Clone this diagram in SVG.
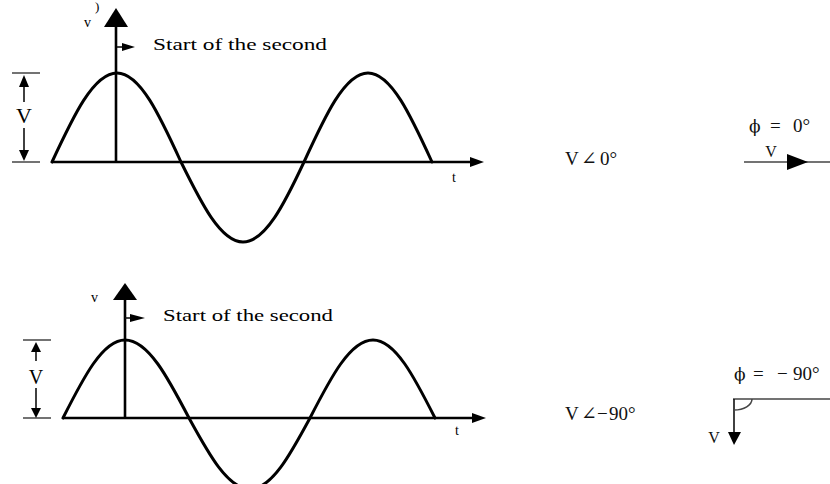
<svg xmlns="http://www.w3.org/2000/svg" width="830" height="484" viewBox="0 0 830 484">
<style>
.wave{fill:none;stroke:#000;stroke-width:3;stroke-linejoin:round;stroke-linecap:round}
.axis{fill:none;stroke:#000;stroke-width:2.6}
.thin{fill:none;stroke:#111;stroke-width:1.6}
.gray{fill:none;stroke:#444;stroke-width:1.5}
.head{fill:#000;stroke:none}
text{font-family:"Liberation Serif","DejaVu Serif",serif;fill:#000}
.lbl{font-size:16px}
.sm{font-size:14px}
.big{font-size:22px}
.ph{font-size:19px;fill:#111}
.phi{font-family:"DejaVu Serif",serif;font-size:17px}
</style>
<rect width="830" height="484" fill="#fff"/>
<text x="95" y="11" class="sm" style="font-size:13px">)</text>

<g id="top-plot">
  <g id="top-wave">
    <path class="wave" d="M52,162 C73.2,116.4 93.5,73 117,73 C140.2,73 160.1,116.4 181,162 C201.2,203 220.6,242 243,242 C265.4,242 284.8,203 304,162 C324.9,116.4 344.8,73 368,73 C391.2,73 411.1,116.4 432,162"/>
  </g>
  <g id="top-axes">
    <line class="axis" x1="52" y1="162" x2="472" y2="162"/>
    <polygon class="head" points="470,157 484,162 470,167"/>
    <line class="axis" x1="116" y1="162" x2="116" y2="24"/>
    <polygon class="head" points="104,27 116,8 128,27"/>
    <text x="84" y="27" class="sm">v</text>
    <text x="452" y="182" class="sm">t</text>
  </g>
  <g id="top-start">
    <line class="thin" x1="117" y1="47" x2="124" y2="47"/>
    <polygon class="head" points="122,43 135,47 122,51"/>
    <text x="153" y="50" class="lbl" textLength="174" lengthAdjust="spacingAndGlyphs">Start of the second</text>
  </g>
  <g id="top-amplitude">
    <line class="gray" x1="12" y1="73" x2="40" y2="73"/>
    <line class="gray" x1="12" y1="162" x2="40" y2="162"/>
    <line class="thin" x1="24" y1="85" x2="24" y2="102"/>
    <polygon class="head" points="19,87 24,75 29,87"/>
    <line class="thin" x1="24" y1="128" x2="24" y2="150"/>
    <polygon class="head" points="19,150 24,161 29,150"/>
    <text x="24" y="123" class="big" text-anchor="middle">V</text>
  </g>
</g>

<g id="top-phasor">
  <text class="ph" y="165"><tspan x="565">V</tspan><tspan x="581">∠</tspan><tspan x="600">0°</tspan></text>
  <text class="ph" y="132"><tspan x="749" class="phi">ϕ</tspan><tspan x="770">=</tspan><tspan x="793">0°</tspan></text>
  <line class="gray" x1="744" y1="162" x2="830" y2="162"/>
  <polygon class="head" points="787,154 808,162 787,170"/>
  <text x="771" y="157" class="ph" text-anchor="middle" style="font-size:16px">V</text>
</g>

<g id="bottom-plot">
  <g id="bottom-wave">
    <path class="wave" d="M63,418 C83.2,378 102.6,340 125,340 C148.2,340 168.1,378 189,418 C208.9,454.4 227.9,489 250,489 C271.7,489 290.4,454.4 310,418 C330.5,378 350.2,340 373,340 C395.4,340 414.8,378 435,418"/>
  </g>
  <g id="bottom-axes">
    <line class="axis" x1="63" y1="418" x2="474" y2="418"/>
    <polygon class="head" points="472,413 486,418 472,423"/>
    <line class="axis" x1="125" y1="418" x2="125" y2="297"/>
    <polygon class="head" points="113,300 125,283 137,300"/>
    <text x="91" y="302" class="sm">v</text>
    <text x="455" y="435" class="sm">t</text>
  </g>
  <g id="bottom-start">
    <line class="thin" x1="125" y1="318" x2="132" y2="318"/>
    <polygon class="head" points="130,314 145,318 130,322"/>
    <text x="163" y="321" class="lbl" textLength="170" lengthAdjust="spacingAndGlyphs">Start of the second</text>
  </g>
  <g id="bottom-amplitude">
    <line class="gray" x1="23" y1="340" x2="51" y2="340"/>
    <line class="gray" x1="23" y1="418" x2="51" y2="418"/>
    <line class="thin" x1="36" y1="352" x2="36" y2="361"/>
    <polygon class="head" points="31,352 36,342 41,352"/>
    <line class="thin" x1="36" y1="388" x2="36" y2="408"/>
    <polygon class="head" points="31,408 36,418 41,408"/>
    <text x="36" y="384" class="big" text-anchor="middle" style="font-size:20px">V</text>
  </g>
</g>

<g id="bottom-phasor">
  <text class="ph" y="420"><tspan x="565">V</tspan><tspan x="581">∠</tspan><tspan x="597">−</tspan><tspan x="609">90°</tspan></text>
  <text class="ph" y="380"><tspan x="734" class="phi">ϕ</tspan><tspan x="753">=</tspan><tspan x="777">−</tspan><tspan x="793">90°</tspan></text>
  <line class="gray" x1="733" y1="399" x2="830" y2="399"/>
  <line class="thin" x1="734" y1="399" x2="734" y2="434"/>
  <polygon class="head" points="728,432 741,432 734,445"/>
  <path class="gray" d="M734,410 A18,11 0 0 0 752,399"/>
  <text x="714" y="443" class="ph" text-anchor="middle" style="font-size:16px">V</text>
</g>
</svg>
